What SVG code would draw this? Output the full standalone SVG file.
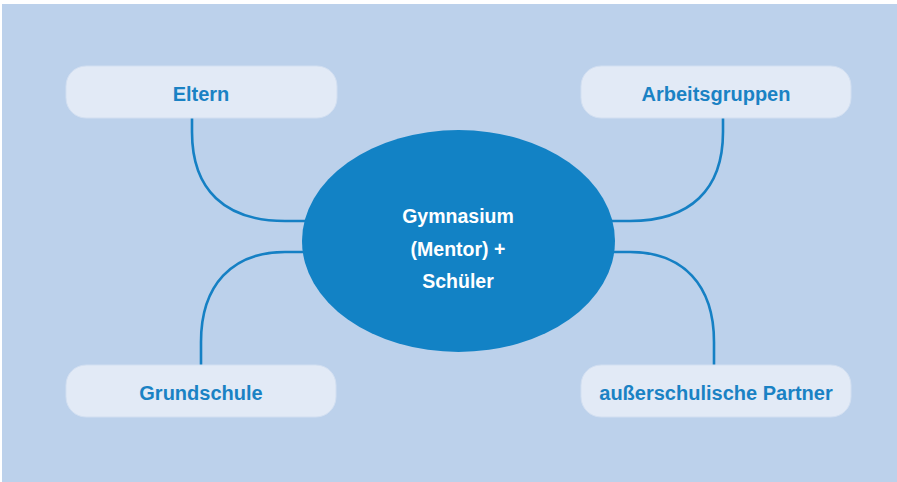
<svg xmlns="http://www.w3.org/2000/svg" width="897" height="482" viewBox="0 0 897 482">
<style>
.box{fill:#E2EAF6;stroke:#D2DFF1;stroke-width:1}
.lbl{font-family:"Liberation Sans",Arial,sans-serif;font-weight:bold;font-size:20px;fill:#1A82C4;text-anchor:middle}
.ctr{font-family:"Liberation Sans",Arial,sans-serif;font-weight:bold;font-size:19.5px;fill:#FFFFFF;text-anchor:middle}
.conn{fill:none;stroke:#1580C4;stroke-width:2.6}
</style>
<rect x="0" y="0" width="897" height="482" fill="#FFFFFF"/>
<rect x="2" y="4" width="895" height="478" fill="#BCD1EB"/>
<g id="connectors">
<path class="conn" d="M192,118 L192,132 C192,190 225,221 285,221 L306,221"/>
<path class="conn" d="M723,118 L723,132 C723,190 690,221 630,221 L612,221"/>
<path class="conn" d="M201,365 L201,342 C201,285 232,252 285,252 L306,252"/>
<path class="conn" d="M714,365 L714,342 C714,285 683,252 630,252 L612,252"/>
</g>
<g id="center">
<ellipse cx="458.5" cy="241" rx="156.5" ry="111" fill="#1282C5"/>
<text class="ctr" x="458" y="223">Gymnasium</text>
<text class="ctr" x="458" y="256">(Mentor) +</text>
<text class="ctr" x="458" y="288">Schüler</text>
</g>
<g id="eltern">
<rect class="box" x="66" y="66" width="271" height="52" rx="20"/>
<text class="lbl" x="201" y="101">Eltern</text>
</g>
<g id="arbeitsgruppen">
<rect class="box" x="581" y="66" width="270" height="52" rx="20"/>
<text class="lbl" x="716" y="101">Arbeitsgruppen</text>
</g>
<g id="grundschule">
<rect class="box" x="66" y="365" width="270" height="52" rx="20"/>
<text class="lbl" x="201" y="400">Grundschule</text>
</g>
<g id="partner">
<rect class="box" x="581" y="365" width="270" height="52" rx="20"/>
<text class="lbl" x="716" y="400">außerschulische Partner</text>
</g>
</svg>
